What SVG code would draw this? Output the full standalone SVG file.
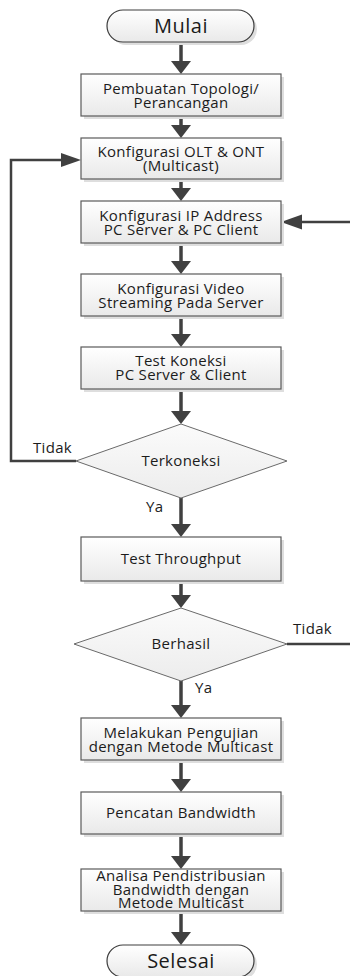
<svg xmlns="http://www.w3.org/2000/svg" width="350" height="976" viewBox="0 0 350 976">
  <defs>
    <linearGradient id="boxFill" x1="0" y1="0" x2="0" y2="1">
      <stop offset="0" stop-color="#ffffff"/>
      <stop offset="1" stop-color="#e9e9e9"/>
    </linearGradient>
    <linearGradient id="decFill" x1="0" y1="0" x2="0" y2="1">
      <stop offset="0" stop-color="#fbfbfb"/>
      <stop offset="1" stop-color="#ececec"/>
    </linearGradient>
  </defs>
  <style>
    .box { fill: url(#boxFill); stroke: #5a5a5a; stroke-width: 1.2; }
    .shadow { fill: #dedede; }
    .dec { fill: url(#decFill); stroke: #6a6a6a; stroke-width: 1; }
    .term { fill: url(#boxFill); stroke: #3c3c3c; stroke-width: 1.2; }
    .t { font-family: "Open Sans", "Liberation Sans", sans-serif; font-size: 15px; font-weight: 500; letter-spacing: 0.3px; fill: #1c1c1c; text-anchor: middle; }
    .tt { font-family: "Open Sans", "Liberation Sans", sans-serif; font-size: 20px; font-weight: 500; letter-spacing: 0.5px; fill: #1a1a1a; text-anchor: middle; }
    .lbl { font-family: "Open Sans", "Liberation Sans", sans-serif; font-size: 15px; font-weight: 500; letter-spacing: 0.3px; fill: #1c1c1c; }
    .shaft { stroke: #404040; stroke-width: 3.5; fill: none; }
    .wire { stroke: #404040; stroke-width: 2.5; fill: none; }
    .head { fill: #404040; }
  </style>

  <!-- connectors -->
  <g id="connectors">
    <line class="shaft" x1="181" y1="42" x2="181" y2="62"/>
    <polygon class="head" points="171,61 191,61 181,74"/>
    <line class="shaft" x1="181" y1="116" x2="181" y2="126"/>
    <polygon class="head" points="171,125 191,125 181,138"/>
    <line class="shaft" x1="181" y1="179" x2="181" y2="189"/>
    <polygon class="head" points="171,188 191,188 181,201"/>
    <line class="shaft" x1="181" y1="243" x2="181" y2="262"/>
    <polygon class="head" points="171,261 191,261 181,274"/>
    <line class="shaft" x1="181" y1="316" x2="181" y2="335"/>
    <polygon class="head" points="171,334 191,334 181,347"/>
    <line class="shaft" x1="181" y1="389" x2="181" y2="412"/>
    <polygon class="head" points="171,411 191,411 181,424"/>
    <line class="shaft" x1="181" y1="498" x2="181" y2="525"/>
    <polygon class="head" points="171,524 191,524 181,537"/>
    <line class="shaft" x1="181" y1="581" x2="181" y2="596"/>
    <polygon class="head" points="171,595 191,595 181,608"/>
    <line class="shaft" x1="181" y1="681" x2="181" y2="706"/>
    <polygon class="head" points="171,705 191,705 181,718"/>
    <line class="shaft" x1="181" y1="760" x2="181" y2="780"/>
    <polygon class="head" points="171,779 191,779 181,792"/>
    <line class="shaft" x1="181" y1="834" x2="181" y2="857"/>
    <polygon class="head" points="171,856 191,856 181,869"/>
    <line class="shaft" x1="181" y1="911" x2="181" y2="933"/>
    <polygon class="head" points="171,932 191,932 181,945"/>

    <!-- Terkoneksi: Tidak loops back -->
    <polyline class="wire" points="76,461 11,461 11,160 62,160"/>
    <polygon class="head" points="61,153 61,167 81,160"/>
    <!-- return into IP address step -->
    <line class="wire" x1="350" y1="222" x2="300" y2="222"/>
    <polygon class="head" points="302,214.5 302,229.5 281,222"/>
    <!-- Berhasil: Tidak -->
    <line class="wire" x1="287" y1="644" x2="350" y2="644"/>

    <text class="lbl" x="33" y="453">Tidak</text>
    <text class="lbl" x="146" y="512">Ya</text>
    <text class="lbl" x="293" y="634">Tidak</text>
    <text class="lbl" x="195" y="693">Ya</text>
  </g>

  <g id="mulai">
    <rect class="shadow" x="110" y="13" width="147" height="32" rx="16"/>
    <rect class="term" x="107" y="10" width="147" height="32" rx="16"/>
    <text class="tt" x="181" y="33">Mulai</text>
  </g>

  <g id="topologi">
    <rect class="shadow" x="84" y="77" width="200" height="42"/>
    <rect class="box" x="81" y="74" width="200" height="42"/>
    <text class="t" x="181" y="94">Pembuatan Topologi/</text>
    <text class="t" x="181" y="108">Perancangan</text>
  </g>

  <g id="olt-ont">
    <rect class="shadow" x="84" y="141" width="200" height="41"/>
    <rect class="box" x="81" y="138" width="200" height="41"/>
    <text class="t" x="181" y="157">Konfigurasi OLT &amp; ONT</text>
    <text class="t" x="181" y="171">(Multicast)</text>
  </g>

  <g id="ip-address">
    <rect class="shadow" x="84" y="204" width="200" height="42"/>
    <rect class="box" x="81" y="201" width="200" height="42"/>
    <text class="t" x="181" y="221">Konfigurasi IP Address</text>
    <text class="t" x="181" y="235">PC Server &amp; PC Client</text>
  </g>

  <g id="video-streaming">
    <rect class="shadow" x="84" y="277" width="200" height="42"/>
    <rect class="box" x="81" y="274" width="200" height="42"/>
    <text class="t" x="181" y="294">Konfigurasi Video</text>
    <text class="t" x="181" y="308">Streaming Pada Server</text>
  </g>

  <g id="test-koneksi">
    <rect class="shadow" x="84" y="350" width="200" height="42"/>
    <rect class="box" x="81" y="347" width="200" height="42"/>
    <text class="t" x="181" y="366">Test Koneksi</text>
    <text class="t" x="181" y="380">PC Server &amp; Client</text>
  </g>

  <g id="terkoneksi">
    <polygon class="dec" points="181,424 287,461 181,498 76,461"/>
    <text class="t" x="181" y="466">Terkoneksi</text>
  </g>

  <g id="throughput">
    <rect class="shadow" x="84" y="540" width="200" height="44"/>
    <rect class="box" x="81" y="537" width="200" height="44"/>
    <text class="t" x="181" y="564">Test Throughput</text>
  </g>

  <g id="berhasil">
    <polygon class="dec" points="181,608 287,644 181,681 74,644"/>
    <text class="t" x="181" y="649">Berhasil</text>
  </g>

  <g id="pengujian">
    <rect class="shadow" x="84" y="721" width="200" height="42"/>
    <rect class="box" x="81" y="718" width="200" height="42"/>
    <text class="t" x="181" y="738">Melakukan Pengujian</text>
    <text class="t" x="181" y="752">dengan Metode Multicast</text>
  </g>

  <g id="pencatatan">
    <rect class="shadow" x="84" y="795" width="200" height="42"/>
    <rect class="box" x="81" y="792" width="200" height="42"/>
    <text class="t" x="181" y="818">Pencatan Bandwidth</text>
  </g>

  <g id="analisa">
    <rect class="shadow" x="84" y="872" width="200" height="42"/>
    <rect class="box" x="81" y="869" width="200" height="42"/>
    <text class="t" x="181" y="881">Analisa Pendistribusian</text>
    <text class="t" x="181" y="895">Bandwidth dengan</text>
    <text class="t" x="181" y="908">Metode Multicast</text>
  </g>

  <g id="selesai">
    <rect class="shadow" x="110" y="948" width="147" height="32" rx="16"/>
    <rect class="term" x="107" y="945" width="147" height="32" rx="16"/>
    <text class="tt" x="181" y="968">Selesai</text>
  </g>
</svg>
